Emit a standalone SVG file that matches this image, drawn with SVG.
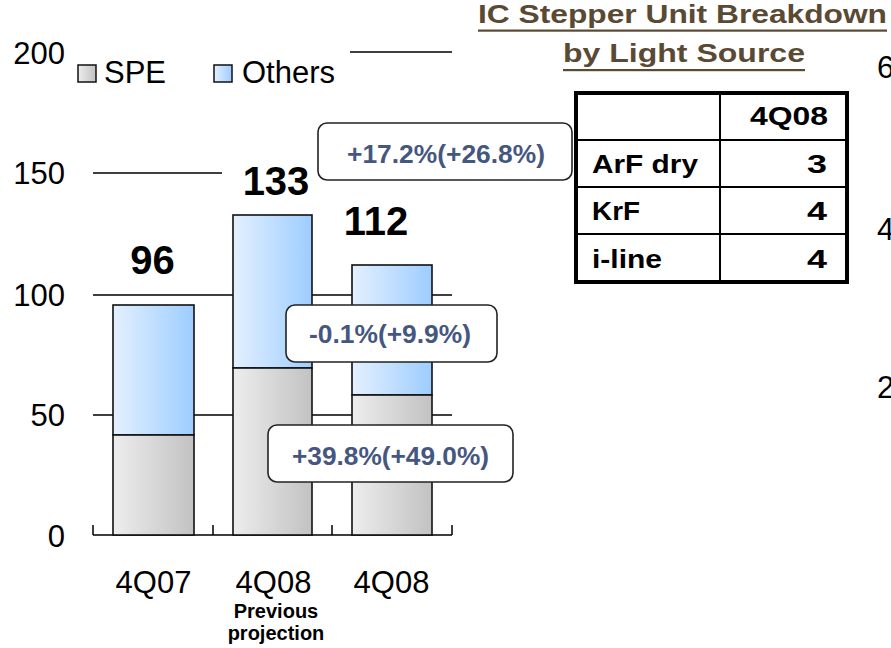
<svg xmlns="http://www.w3.org/2000/svg" width="891" height="648" viewBox="0 0 891 648">
<style>
text{font-family:"Liberation Sans",Arial,sans-serif;fill:#000}
.ax{font-size:31px}
.big{font-size:40px;font-weight:bold}
.cl{font-size:26px;font-weight:bold;fill:#46577f}
.tb{font-size:26px;font-weight:bold}
.ttl{font-size:26px;font-weight:bold;fill:#5b4a33}
.grid{stroke:#000;stroke-width:1.5;fill:none}
.bar{stroke:#111;stroke-width:1.6}
.box{fill:#fff;stroke:#222;stroke-width:1.6}
</style>
<defs>
<linearGradient id="gSpe" x1="0" y1="0" x2="1" y2="0">
<stop offset="0" stop-color="#ededed"/><stop offset="1" stop-color="#c2c2c2"/>
</linearGradient>
<linearGradient id="gOth" x1="0" y1="0" x2="1" y2="0">
<stop offset="0" stop-color="#e4f0ff"/><stop offset="1" stop-color="#9dcdff"/>
</linearGradient>
</defs>
<g id="axes">
<path class="grid" d="M350 52H452M93 173H222M93 295H452M93 415H452"/>
<path class="grid" d="M93 535H452M93 525V535M213 525V535M332 525V535M452 525V535"/>
<text class="ax" x="65" y="64" text-anchor="end">200</text>
<text class="ax" x="65" y="184" text-anchor="end">150</text>
<text class="ax" x="65" y="306" text-anchor="end">100</text>
<text class="ax" x="65" y="426" text-anchor="end">50</text>
<text class="ax" x="65" y="547" text-anchor="end">0</text>
<text class="ax" x="153.5" y="593" text-anchor="middle">4Q07</text>
<text class="ax" x="273.5" y="593" text-anchor="middle">4Q08</text>
<text class="ax" x="391.5" y="593" text-anchor="middle">4Q08</text>
<text x="276" y="618" text-anchor="middle" font-size="20" font-weight="bold">Previous</text>
<text x="276" y="640" text-anchor="middle" font-size="20" font-weight="bold">projection</text>
</g>
<g id="legend">
<rect x="78" y="65" width="18" height="17" fill="url(#gSpe)" stroke="#111" stroke-width="1.5"/>
<text class="ax" x="104" y="83">SPE</text>
<rect x="214" y="65" width="18" height="17" fill="url(#gOth)" stroke="#111" stroke-width="1.5"/>
<text class="ax" x="242" y="83">Others</text>
</g>
<g id="bar-4Q07">
<rect class="bar" x="113" y="305" width="81" height="130" fill="url(#gOth)"/>
<rect class="bar" x="113" y="435" width="81" height="100" fill="url(#gSpe)"/>
<text class="big" x="152.5" y="274" text-anchor="middle">96</text>
</g>
<g id="bar-4Q08-prev">
<rect class="bar" x="233" y="215" width="79" height="153" fill="url(#gOth)"/>
<rect class="bar" x="233" y="368" width="79" height="167" fill="url(#gSpe)"/>
<text class="big" x="276" y="195" text-anchor="middle">133</text>
</g>
<g id="bar-4Q08">
<rect class="bar" x="352" y="265" width="80" height="130" fill="url(#gOth)"/>
<rect class="bar" x="352" y="395" width="80" height="140" fill="url(#gSpe)"/>
<text class="big" x="376" y="235" text-anchor="middle">112</text>
</g>
<g id="callout-1">
<rect class="box" x="318" y="123" width="254" height="57" rx="9"/>
<text class="cl" x="347" y="163" textLength="198" lengthAdjust="spacingAndGlyphs">+17.2%(+26.8%)</text>
</g>
<g id="callout-2">
<rect class="box" x="286" y="305" width="211" height="57" rx="9"/>
<text class="cl" x="309" y="343" textLength="162" lengthAdjust="spacingAndGlyphs">-0.1%(+9.9%)</text>
</g>
<g id="callout-3">
<rect class="box" x="268" y="425" width="245" height="57" rx="9"/>
<text class="cl" x="292" y="465" textLength="197" lengthAdjust="spacingAndGlyphs">+39.8%(+49.0%)</text>
</g>
<g id="title">
<text class="ttl" x="478" y="23" textLength="409" lengthAdjust="spacingAndGlyphs">IC Stepper Unit Breakdown</text>
<rect x="478" y="29.5" width="409" height="2.2" fill="#5b4a33"/>
<text class="ttl" x="563" y="62" textLength="242" lengthAdjust="spacingAndGlyphs">by Light Source</text>
<rect x="563" y="69" width="242" height="2.2" fill="#5b4a33"/>
</g>
<g id="table">
<rect x="576" y="93" width="271" height="189" fill="#fff" stroke="#000" stroke-width="4"/>
<path d="M576 140H847M576 187H847M576 234H847M720 93V282" stroke="#000" stroke-width="2" fill="none"/>
<text class="tb" x="750" y="125" textLength="78" lengthAdjust="spacingAndGlyphs">4Q08</text>
<text class="tb" x="592" y="173" textLength="106" lengthAdjust="spacingAndGlyphs">ArF dry</text>
<text class="tb" x="807" y="173" textLength="20" lengthAdjust="spacingAndGlyphs">3</text>
<text class="tb" x="592" y="220" textLength="48" lengthAdjust="spacingAndGlyphs">KrF</text>
<text class="tb" x="807" y="220" textLength="20" lengthAdjust="spacingAndGlyphs">4</text>
<text class="tb" x="592" y="268" textLength="70" lengthAdjust="spacingAndGlyphs">i-line</text>
<text class="tb" x="807" y="268" textLength="20" lengthAdjust="spacingAndGlyphs">4</text>
</g>
<g id="right-axis">
<text class="ax" x="877" y="78">6</text>
<text class="ax" x="877" y="240">4</text>
<text class="ax" x="877" y="398">2</text>
</g>
</svg>
